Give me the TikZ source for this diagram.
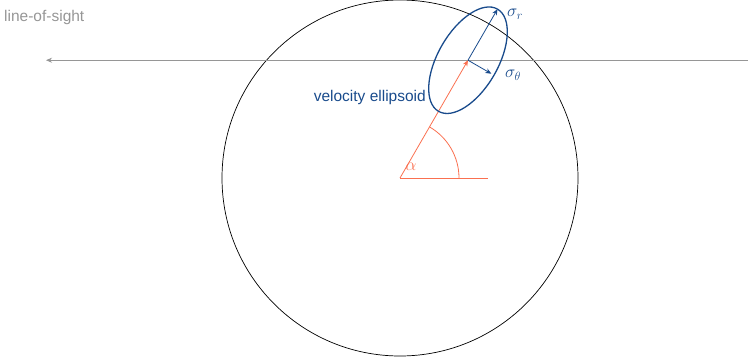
\documentclass[tikz,border=0pt]{standalone}
\usepackage{fontspec}
\setmainfont{Liberation Sans}
\usetikzlibrary{arrows.meta,calc}
\definecolor{losgray}{RGB}{150,150,150}
\definecolor{ellblue}{RGB}{25,75,140}
\definecolor{angorange}{RGB}{250,112,80}
\tikzset{
  losline/.style={draw=losgray, line width=0.7pt, -{Stealth[length=6pt,width=5pt]}},
  ellline/.style={draw=ellblue, line width=1.3pt},
  ellarrow/.style={draw=ellblue, line width=0.8pt, -{Stealth[length=6pt,width=5pt]}},
  orangeline/.style={draw=angorange, line width=0.8pt},
  lbl/.style={font=\fontsize{15.5}{18}\selectfont, inner sep=0pt},
  mlbl/.style={font=\fontsize{17}{19}\selectfont, inner sep=0pt},
}
\begin{document}
\begin{tikzpicture}[x=1pt,y=1pt]
\useasboundingbox (0,0) rectangle (748,360);
% circle
\coordinate (O) at (400,182);
\draw[black, line width=0.7pt] (O) circle[radius=178];
% ellipse centre
\coordinate (E) at ($(O)+(60:136)$);
\coordinate (Hend) at ($(O)+(88,0)$);
\coordinate (Sr) at ($(E)+(60:59)$);
\coordinate (St) at ($(E)+(-30:27)$);
% line of sight
\coordinate (LosR) at (748,0 |- E);
\coordinate (LosL) at (46,0 |- E);
\draw[losline] (LosR) -- (LosL);
\node[lbl, text=losgray, anchor=west] (los) at (4,343) {line-of-sight};
% angle
\draw[orangeline] (O) -- (Hend);
\draw[orangeline] ($(O)+(59,0)$) arc[start angle=0, end angle=60, radius=59];
\draw[orangeline, -{Stealth[length=6pt,width=5pt]}] (O) -- (E);
\node[mlbl, text=angorange] (alpha) at (411,193) {$\alpha$};
% ellipse
\draw[ellline] (E) ellipse[x radius=59, y radius=30, rotate=60];
\draw[ellarrow] (E) -- (Sr);
\draw[ellarrow] (E) -- (St);
\node[mlbl, text=ellblue] (sr) at (515,346) {$\sigma_r$};
\node[mlbl, text=ellblue] (st) at (513,285) {$\sigma_\theta$};
\node[lbl, text=ellblue, anchor=east] (ve) at (426,263) {velocity ellipsoid};
\end{tikzpicture}
\end{document}
